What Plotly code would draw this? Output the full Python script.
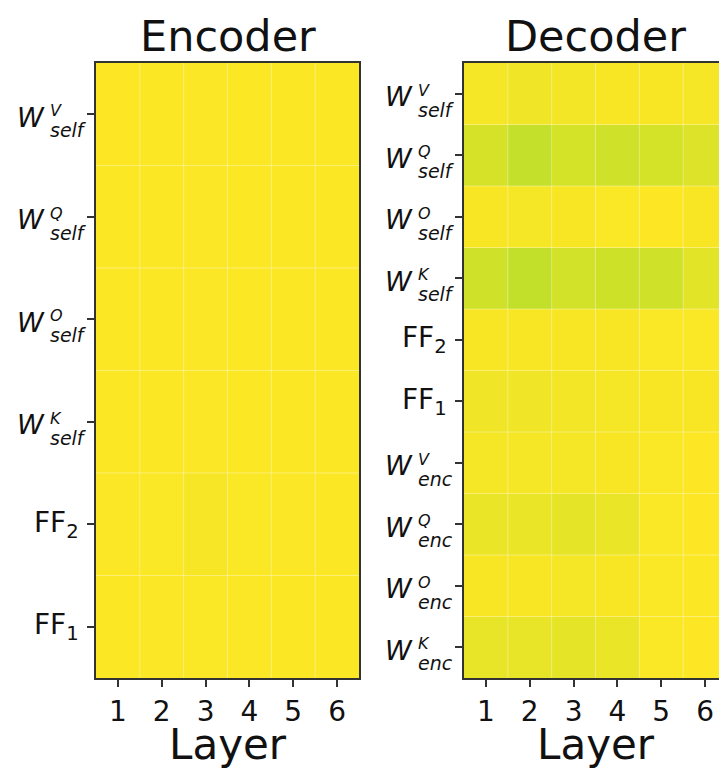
import plotly.graph_objects as go

layers = [1, 2, 3, 4, 5, 6]

# Row labels: (base, superscript, subscript), top to bottom
enc_labels = [("W", "V", "self"), ("W", "Q", "self"), ("W", "O", "self"),
              ("W", "K", "self"), ("FF", "", "2"), ("FF", "", "1")]
dec_labels = [("W", "V", "self"), ("W", "Q", "self"), ("W", "O", "self"),
              ("W", "K", "self"), ("FF", "", "2"), ("FF", "", "1"),
              ("W", "V", "enc"), ("W", "Q", "enc"), ("W", "O", "enc"),
              ("W", "K", "enc")]

# Values per row (top to bottom), per layer
enc_values = [
    [1.000, 0.998, 0.997, 0.998, 0.999, 0.999],
    [0.999, 0.998, 0.997, 0.998, 0.998, 0.999],
    [0.999, 0.998, 0.997, 0.998, 0.998, 0.999],
    [0.999, 0.998, 0.997, 0.998, 0.998, 0.999],
    [0.997, 0.995, 0.990, 0.995, 0.997, 0.998],
    [0.998, 0.997, 0.996, 0.997, 0.998, 0.999],
]
dec_values = [
    [0.988, 0.980, 0.985, 0.992, 0.992, 0.988],
    [0.940, 0.914, 0.937, 0.931, 0.937, 0.951],
    [0.992, 0.988, 0.992, 0.995, 1.000, 0.992],
    [0.931, 0.909, 0.934, 0.926, 0.931, 0.957],
    [0.992, 0.992, 0.992, 0.992, 0.995, 0.995],
    [0.980, 0.980, 0.985, 0.988, 0.992, 0.992],
    [0.988, 0.988, 0.988, 0.992, 0.995, 1.000],
    [0.972, 0.972, 0.963, 0.972, 0.995, 1.000],
    [0.992, 0.992, 0.988, 0.992, 0.995, 0.998],
    [0.968, 0.968, 0.963, 0.972, 0.995, 1.000],
]

W, H = 719, 770
FONT = "DejaVu Sans"
TXT = "#111111"
FRAME = "#333333"

enc_dom_x = [96 / W, 359 / W]
dec_dom_x = [464 / W, 1.0]
dom_y = [1 - 678 / H, 1 - 63 / H]
col_px = (359 - 96) / len(layers)
dec_right = layers[0] - 0.5 + (W - 464) / col_px

fig = go.Figure()
fig.add_trace(go.Heatmap(z=enc_values, x=layers, y=list(range(len(enc_labels))),
                         colorscale="Viridis", zmin=0, zmax=1, showscale=False,
                         xaxis="x", yaxis="y", hoverinfo="z"))
fig.add_trace(go.Heatmap(z=dec_values, x=layers, y=list(range(len(dec_labels))),
                         colorscale="Viridis", zmin=0, zmax=1, showscale=False,
                         xaxis="x2", yaxis="y2", hoverinfo="z"))

common_x = dict(tickvals=layers, ticktext=[str(l) for l in layers], ticks="outside",
                ticklen=7, tickwidth=1.5, tickcolor=FRAME, showgrid=False,
                zeroline=False, showline=True, linecolor=FRAME, linewidth=2,
                tickfont=dict(family=FONT, size=28, color=TXT), fixedrange=True)
common_y = dict(ticks="outside", ticklen=7, tickwidth=1.5, tickcolor=FRAME,
                showgrid=False, zeroline=False, showline=True, linecolor=FRAME,
                linewidth=2, showticklabels=False, fixedrange=True)

fig.update_layout(
    width=W, height=H, margin=dict(l=0, r=0, t=0, b=0),
    paper_bgcolor="white", plot_bgcolor="white", showlegend=False,
    xaxis=dict(domain=enc_dom_x, range=[0.5, len(layers) + 0.5], mirror=True,
               anchor="y", **common_x),
    yaxis=dict(domain=dom_y, range=[len(enc_labels) - 0.5, -0.5], mirror=True,
               anchor="x", tickvals=list(range(len(enc_labels))), **common_y),
    xaxis2=dict(domain=dec_dom_x, range=[0.5, dec_right], mirror=True,
                anchor="y2", **common_x),
    yaxis2=dict(domain=dom_y, range=[len(dec_labels) - 0.5, -0.5], mirror=False,
                anchor="x2", tickvals=list(range(len(dec_labels))), **common_y),
)

shapes = []
annotations = []
for xr, yr, labels in (("x", "y", enc_labels), ("x2", "y2", dec_labels)):
    # faint cell-boundary grid lines
    for k in range(len(layers) - 1):
        shapes.append(dict(type="line", xref=xr, yref=yr + " domain",
                           x0=layers[k] + 0.5, x1=layers[k] + 0.5, y0=0, y1=1,
                           line=dict(color="rgba(255,255,255,0.35)", width=1),
                           layer="above"))
    for r in range(len(labels) - 1):
        shapes.append(dict(type="line", xref=xr + " domain", yref=yr,
                           x0=0, x1=1, y0=r + 0.5, y1=r + 0.5,
                           line=dict(color="rgba(255,255,255,0.35)", width=1),
                           layer="above"))
    # row labels
    for r, (base, sup, sub) in enumerate(labels):
        if base == "W":
            annotations.append(dict(xref=xr + " domain", yref=yr, x=0, y=r,
                                    text="<i>W</i>", showarrow=False,
                                    xanchor="right", yanchor="middle",
                                    xshift=-49, yshift=-3,
                                    font=dict(family=FONT, size=27, color=TXT)))
            annotations.append(dict(xref=xr + " domain", yref=yr, x=0, y=r,
                                    text=("<i>" + sup + "</i><br>"
                                          "<span style='font-size:19px'><i>"
                                          + sub + "</i></span>"),
                                    showarrow=False, align="left",
                                    xanchor="left", yanchor="middle",
                                    xshift=-48, yshift=-7,
                                    font=dict(family=FONT, size=16, color=TXT)))
        else:
            annotations.append(dict(xref=xr + " domain", yref=yr, x=0, y=r,
                                    text=base + "<sub>" + sub + "</sub>",
                                    showarrow=False, xanchor="right",
                                    yanchor="middle", xshift=-15, yshift=0,
                                    font=dict(family=FONT, size=28, color=TXT)))

mid = (layers[0] + layers[-1]) / 2
for xr, title in (("x", "Encoder"), ("x2", "Decoder")):
    annotations.append(dict(xref=xr, yref="paper", x=mid, y=1 - 36 / H,
                            text=title, showarrow=False, xanchor="center",
                            yanchor="middle",
                            font=dict(family=FONT, size=43, color=TXT)))
    annotations.append(dict(xref=xr, yref="paper", x=mid, y=1 - 744 / H,
                            text="Layer", showarrow=False, xanchor="center",
                            yanchor="middle", borderpad=0,
                            font=dict(family=FONT, size=42, color=TXT)))

fig.update_layout(shapes=shapes, annotations=annotations)
fig.write_html("out.html")
